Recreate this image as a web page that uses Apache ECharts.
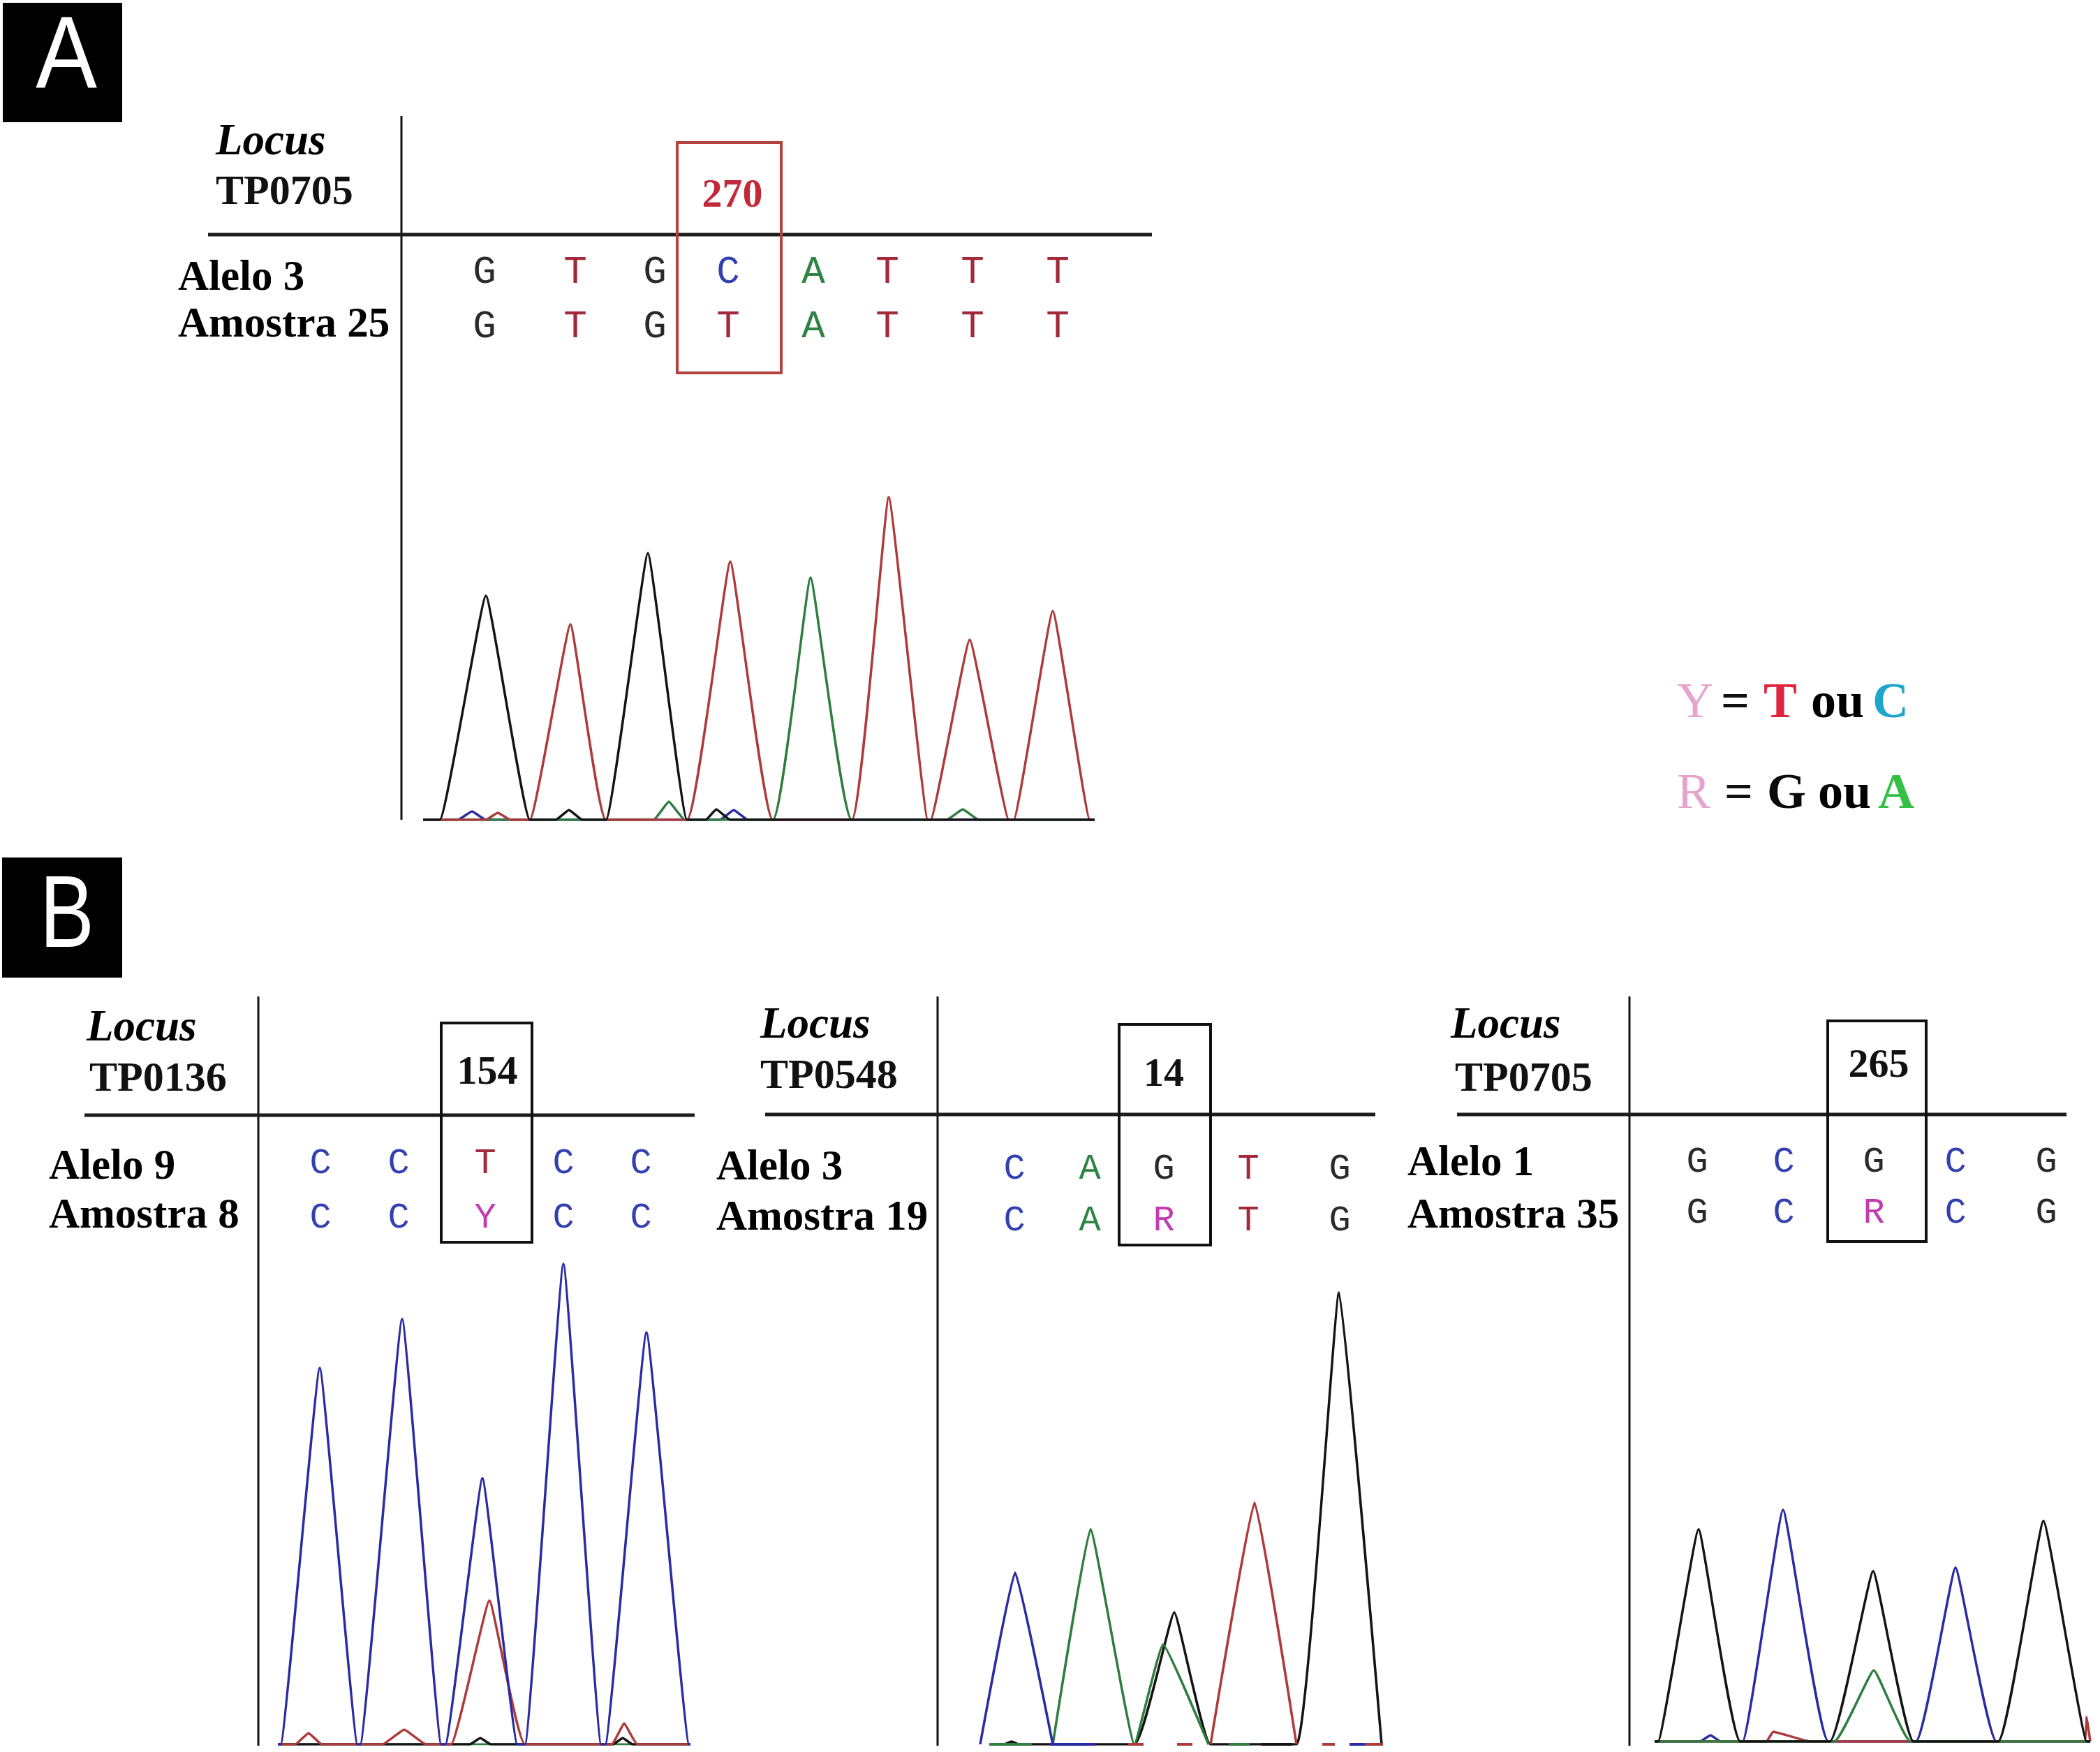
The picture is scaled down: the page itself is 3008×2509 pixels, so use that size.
<!DOCTYPE html>
<html>
<head>
<meta charset="utf-8">
<script src="https://cdn.jsdelivr.net/npm/echarts@6/dist/echarts.min.js"></script>
<style>
  html, body { margin: 0; padding: 0; background: #fff; }
  #chart { width: 3008px; height: 2509px; }
</style>
</head>
<body>
<div id="chart"></div>
<script>
// peaks are [start, apex, height, end] in scan units / signal units
const peaksA = {
  blue:  [[50, 70, 12, 90], [425, 445, 14, 465]],
  green: [[330, 352, 26, 375], [501, 555, 347, 614], [750, 773, 15, 796]],
  red:   [[90, 107, 10, 125], [153, 211, 280, 262], [378, 440, 370, 501], [614, 667, 462, 723], [727, 783, 258, 839], [846, 902, 299, 955]],
  black: [[24, 90, 321, 153], [190, 209, 14, 228], [262, 322, 382, 378], [405, 420, 15, 440]]
};
const peaksB1 = {
  black: [[275, 290, 9, 305], [480, 494, 9, 508]],
  red:   [[25, 44, 16, 63], [150, 181, 21, 212], [248, 303, 206, 354], [478, 496, 30, 515]],
  blue:  [[4, 60, 539, 114], [118, 178, 609, 234], [240, 293, 381, 343], [354, 409, 688, 463], [469, 528, 590, 589]]
};
const peaksB2 = {
  black: [[35, 45, 4, 55], [221, 278, 189, 330], [453, 514, 647, 575]],
  green: [[104, 158, 308, 221], [221, 262, 143, 327]],
  blue:  [[0, 50, 246, 104]],
  red:   [[330, 393, 346, 453]]
};
// baseline pieces of TP0548 trace: [from, to]
const baseB2 = {
  green: [[13, 74], [356, 386]],
  blue:  [[100, 165], [529, 551]],
  red:   [[212, 234], [282, 304], [490, 508], [551, 577]],
  black: [[403, 447]]
};
const peaksB3 = {
  blue:  [[65, 80, 9, 95], [126, 184, 332, 249], [374, 431, 249, 490]],
  red:   [[160, 170, 14, 212, 223], [615, 619, 35, 624]],
  green: [[257, 314, 102, 367]],
  black: [[5, 63, 304, 123], [251, 313, 244, 371], [492, 557, 316, 619]]
};

const seqA = [['G', 'T', 'G', 'C', 'A', 'T', 'T', 'T'], ['G', 'T', 'G', 'T', 'A', 'T', 'T', 'T']];
const seqB1 = [['C', 'C', 'T', 'C', 'C'], ['C', 'C', 'Y', 'C', 'C']];
const seqB2 = [['C', 'A', 'G', 'T', 'G'], ['C', 'A', 'R', 'T', 'G']];
const seqB3 = [['G', 'C', 'G', 'C', 'G'], ['G', 'C', 'R', 'C', 'G']];
// base call positions, scan units
const callsA = [88, 218, 332, 437, 559, 665, 787, 909];
const callsB1 = [61, 173, 297, 409, 520];
const callsB2 = [49, 157, 263, 384, 515];
const callsB3 = [61, 185, 314, 431, 561];

const loci = ['TP0705', 'TP0136', 'TP0548', 'TP0705'];
const positions = ['270', '154', '14', '265'];
const alleles = ['Alelo 3', 'Alelo 9', 'Alelo 3', 'Alelo 1'];
const samples = ['Amostra 25', 'Amostra 8', 'Amostra 19', 'Amostra 35'];

const traceColors = { black: '#141414', red: '#ad3b3b', green: '#2f7d3f', blue: '#2b2ba3' };
const baseColors = { G: '#2a2a2a', T: '#a3283a', C: '#3340b0', A: '#2e8444', Y: '#c23bb0', R: '#c23bb0' };

function trace(peaks, xmax) {
  const pts = [];
  if (xmax != null) pts.push([0, 0]);
  peaks.slice().sort((a, b) => a[0] - b[0]).forEach(p => {
    pts.push([p[0], 0], [p[1], p[2]], [p[p.length - 1], 0]);
  });
  if (xmax != null) pts.push([xmax, 0]);
  return pts;
}

const chart = echarts.init(document.getElementById('chart'));

const panels = [
  { peaks: peaksA, order: ['blue', 'green', 'red', 'black'], left: 606, top: 674, width: 962, height: 500, ymax: 500, base: true },
  { peaks: peaksB1, order: ['black', 'red', 'blue'], left: 398, top: 1798, width: 591, height: 700, ymax: 700, base: true, under: 'green' },
  { peaks: peaksB2, order: ['black', 'green', 'blue', 'red'], left: 1404, top: 1798, width: 581, height: 700, ymax: 700, base: false },
  { peaks: peaksB3, order: ['blue', 'red', 'green', 'black'], left: 2370, top: 1794, width: 624, height: 700, ymax: 700, base: true, under: 'green' }
];

const grid = [], xAxis = [], yAxis = [], series = [];
panels.forEach((p, i) => {
  grid.push({ left: p.left, top: p.top, width: p.width, height: p.height });
  xAxis.push({ type: 'value', gridIndex: i, min: 0, max: p.width, show: false });
  yAxis.push({ type: 'value', gridIndex: i, min: 0, max: p.ymax, show: false });
  if (p.under) {
    series.push({
      type: 'line', xAxisIndex: i, yAxisIndex: i, showSymbol: false, silent: true,
      data: [[0, 0], [p.width, 0]],
      lineStyle: { color: traceColors[p.under], width: 3 }
    });
  }
  p.order.forEach(c => {
    series.push({
      type: 'line', xAxisIndex: i, yAxisIndex: i, showSymbol: false, silent: true,
      smooth: 0.1,
      data: trace(p.peaks[c], p.base ? p.width : null),
      lineStyle: { color: traceColors[c], width: 3.5 }
    });
  });
});
Object.keys(baseB2).forEach(c => {
  const data = [];
  baseB2[c].forEach(s => { data.push([s[0], 0], [s[1], 0], null); });
  series.push({
    type: 'line', xAxisIndex: 2, yAxisIndex: 2, showSymbol: false, silent: true,
    connectNulls: false, data: data,
    lineStyle: { color: traceColors[c], width: 4 }
  });
});

chart.setOption({
  animation: false,
  backgroundColor: '#fff',
  grid: grid, xAxis: xAxis, yAxis: yAxis, series: series
});

// ---- table, labels and legend ----
const SERIF = '"Liberation Serif", "DejaVu Serif", serif';
const MONO = '"Liberation Mono", "DejaVu Sans Mono", monospace';
const g = [];
function txt(x, y, s, font, fill, align) {
  g.push({ type: 'text', silent: true, style: { x: x, y: y, text: s, font: font, fill: fill, align: align || 'left', verticalAlign: 'middle' } });
}
function ln(x1, y1, x2, y2, w, c) {
  g.push({ type: 'line', silent: true, shape: { x1: x1, y1: y1, x2: x2, y2: y2 }, style: { stroke: c || '#111', lineWidth: w } });
}
function box(x, y, w, h, c, lw) {
  g.push({ type: 'rect', silent: true, shape: { x: x, y: y, width: w, height: h }, style: { fill: 'none', stroke: c, lineWidth: lw } });
}

// panel letters
g.push({ type: 'rect', silent: true, shape: { x: 4, y: 4, width: 171, height: 171 }, style: { fill: '#000' } });
g.push({ type: 'rect', silent: true, shape: { x: 3, y: 1228, width: 172, height: 172 }, style: { fill: '#000' } });
g.push({ type: 'text', silent: true, x: 95, y: 86, scaleX: 0.9, style: { x: 0, y: 0, text: 'A', font: '146px "Liberation Sans", sans-serif', fill: '#fff', align: 'center', verticalAlign: 'middle' } });
g.push({ type: 'text', silent: true, x: 96, y: 1316, scaleX: 0.8, style: { x: 0, y: 0, text: 'B', font: '146px "Liberation Sans", sans-serif', fill: '#fff', align: 'center', verticalAlign: 'middle' } });

const tables = [
  { vx: 575, vy1: 166, vy2: 1174, hy: 336, hx1: 298, hx2: 1650, bx: 970, by: 204, bw: 149, bh: 330, bc: '#b3413d', numColor: '#c22a3a',
    locus: [309, 205], tp: [309, 276], num: [1049, 281], al: [255, 399], am: [255, 466], rows: [390, 468], seq: seqA, calls: callsA, fs: 56 },
  { vx: 370, vy1: 1427, vy2: 2500, hy: 1597, hx1: 121, hx2: 995, bx: 632, by: 1465, bw: 130, bh: 314, bc: '#111', numColor: '#111',
    locus: [124, 1474], tp: [128, 1546], num: [698, 1537], al: [70, 1672], am: [70, 1742], rows: [1666, 1744], seq: seqB1, calls: callsB1, fs: 52 },
  { vx: 1343, vy1: 1427, vy2: 2500, hy: 1596, hx1: 1096, hx2: 1970, bx: 1603, by: 1467, bw: 131, bh: 316, bc: '#111', numColor: '#111',
    locus: [1089, 1470], tp: [1089, 1542], num: [1667, 1540], al: [1026, 1673], am: [1026, 1745], rows: [1674, 1748], seq: seqB2, calls: callsB2, fs: 52 },
  { vx: 2334, vy1: 1427, vy2: 2500, hy: 1596, hx1: 2087, hx2: 2960, bx: 2618, by: 1462, bw: 141, bh: 316, bc: '#111', numColor: '#111',
    locus: [2078, 1470], tp: [2084, 1546], num: [2691, 1527], al: [2016, 1667], am: [2016, 1742], rows: [1664, 1737], seq: seqB3, calls: callsB3, fs: 52 }
];

tables.forEach((t, i) => {
  ln(t.vx, t.vy1, t.vx, t.vy2, 3);
  ln(t.hx1, t.hy, t.hx2, t.hy, 5, '#1c1c1c');
  box(t.bx, t.by, t.bw, t.bh, t.bc, 4);
  txt(t.locus[0], t.locus[1], 'Locus', 'italic bold 63px ' + SERIF, '#000');
  txt(t.tp[0], t.tp[1], loci[i], 'bold 60px ' + SERIF, '#111');
  txt(t.num[0], t.num[1], positions[i], 'bold 58px ' + SERIF, t.numColor, 'center');
  txt(t.al[0], t.al[1], alleles[i], 'bold 61px ' + SERIF, '#000');
  txt(t.am[0], t.am[1], samples[i], 'bold 61px ' + SERIF, '#000');
  t.seq.forEach((row, r) => {
    row.forEach((b, k) => {
      const px = chart.convertToPixel({ xAxisIndex: i }, t.calls[k]);
      txt(px, t.rows[r], b, t.fs + 'px ' + MONO, baseColors[b], 'center');
    });
  });
});

// IUPAC legend
const leg = [
  [1008, [[2402, 'Y', 'normal', '#e6a3cc'], [2465, '=', 'bold', '#111'], [2526, 'T', 'bold', '#e0263f'], [2594, 'ou', 'bold', '#000'], [2682, 'C', 'bold', '#1fa6cc']]],
  [1138, [[2402, 'R', 'normal', '#e6a3cc'], [2470, '=', 'bold', '#111'], [2531, 'G', 'bold', '#0a0a0a'], [2604, 'ou', 'bold', '#000'], [2690, 'A', 'bold', '#33c044']]]
];
leg.forEach(row => {
  row[1].forEach(e => txt(e[0], row[0], e[1], e[2] + ' 72px ' + SERIF, e[3]));
});

chart.setOption({ graphic: { elements: g } });
</script>
</body>
</html>
